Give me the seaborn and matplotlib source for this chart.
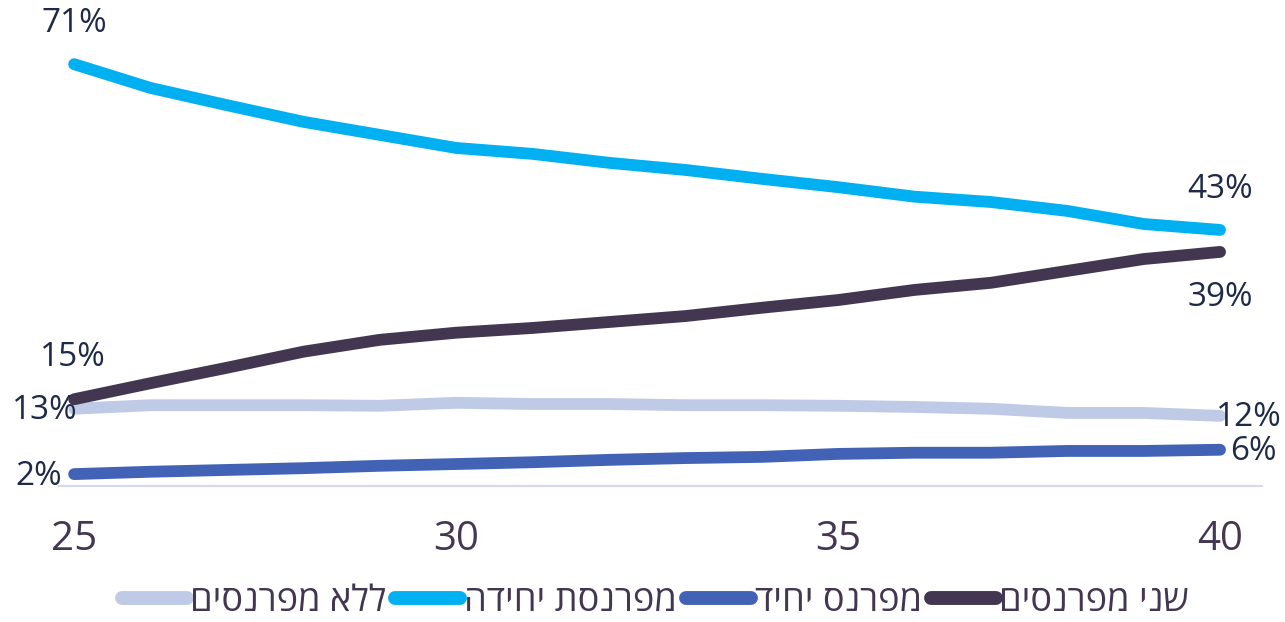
import numpy as np
import pandas as pd
import matplotlib
matplotlib.use('Agg')
import matplotlib.pyplot as plt
import seaborn as sns

sns.set_style('white')
plt.rcParams['font.family'] = ['Open Sans', 'DejaVu Sans']

# ages on x axis
age = list(range(25, 41))

# share of households (%) by earner type
two_earners = [14.6, 17.3, 19.9, 22.6, 24.6, 25.8, 26.6, 27.6, 28.6, 30.0, 31.3, 33.0, 34.2, 36.2, 38.2, 39.4]
single_male = [2.0, 2.4, 2.7, 3.0, 3.4, 3.7, 4.0, 4.4, 4.7, 4.9, 5.4, 5.6, 5.6, 5.9, 5.9, 6.1]
single_female = [71.0, 67.0, 64.1, 61.3, 59.1, 56.9, 55.9, 54.4, 53.2, 51.7, 50.3, 48.7, 47.8, 46.3, 44.1, 43.1]
no_earners = [13.0, 13.6, 13.6, 13.6, 13.5, 14.0, 13.8, 13.8, 13.6, 13.6, 13.5, 13.3, 13.0, 12.3, 12.3, 11.8]

names = ['ללא מפרנסים', 'מפרנסת יחידה', 'מפרנס יחיד', 'שני מפרנסים']
series = [no_earners, single_female, single_male, two_earners]
colors = ['#BFCAE6', '#00B0F0', '#4263B5', '#433650']

# matplotlib has no bidi, so flip hebrew for display
def heb(s):
    return s[::-1]

rows = []
for n, vals in zip(names, series):
    for a, v in zip(age, vals):
        rows.append({'age': a, 'value': v, 'group': heb(n)})
df = pd.DataFrame(rows)

fig = plt.figure(figsize=(12.85, 6.22), dpi=100)
ax = fig.add_axes([0, 136/622, 1, 1 - 136/622])

sns.lineplot(data=df, x='age', y='value', hue='group',
             palette=dict(zip([heb(n) for n in names], colors)),
             linewidth=8.5, solid_capstyle='round', ax=ax, legend=False)

ax.set_xlim(24.03, 40.85)
ax.set_ylim(0, 81.8)
ax.set_xticks([25, 30, 35, 40])
ax.set_yticks([])
ax.set_xlabel('')
ax.set_ylabel('')
ax.tick_params(axis='x', length=0, labelsize=29, labelcolor='#453651', pad=24)
for s in ['top', 'left', 'right']:
    ax.spines[s].set_visible(False)
ax.spines['bottom'].set_color('#D3DAEE')
ax.spines['bottom'].set_linewidth(1.5)
ax.spines['bottom'].set_bounds(24.8, 40.55)

lab_col = '#1E2A47'
def lab(x, y, txt, dx, dy, ha='center'):
    ax.annotate(txt, (x, y), xytext=(dx, dy), textcoords='offset points',
                ha=ha, va='center', fontsize=24, color=lab_col)

lab(age[0], single_female[0], '71%', 0, 29)
lab(age[-1], single_female[-1], '43%', 0, 29)
lab(age[-1], two_earners[-1], '39%', 0, -33)
lab(age[-1], no_earners[-1], '12%', 21, -1)
lab(age[-1], single_male[-1], '6%', 7, -1, ha='left')
lab(age[0], no_earners[0], '13%', -21, -1)
lab(age[0], single_male[0], '2%', -9, -2, ha='right')
lab(age[0], two_earners[0], '15%', -1, 30)

handles = [plt.Line2D([], [], color=c, linewidth=10, solid_capstyle='round') for c in colors]
fig.legend(handles, [heb(n) for n in names], loc='center', bbox_to_anchor=(0.51, 1 - 602/622),
           ncol=4, frameon=False, fontsize=26, handlelength=1.8, handletextpad=0.1,
           columnspacing=0.25, labelcolor='#433650')

fig.savefig('out.png', dpi=100)
